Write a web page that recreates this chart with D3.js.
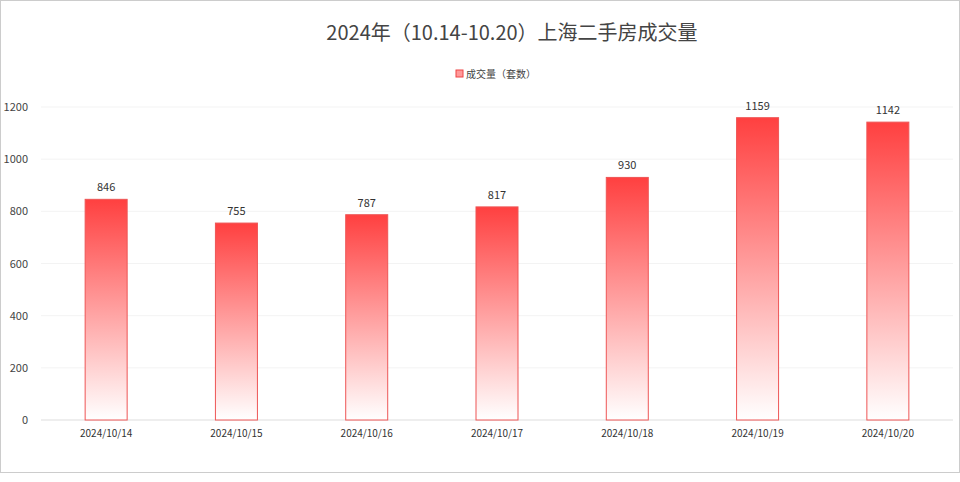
<!DOCTYPE html>
<html><head><meta charset="utf-8">
<script src="https://cdn.jsdelivr.net/npm/d3@7.9.0/dist/d3.min.js"></script>
<style>body{margin:0;background:#fff;font-family:"Noto Sans CJK SC","Noto Sans",sans-serif}</style>
</head><body>
<svg id="chart" width="960" height="482"></svg>
<script>
// chart data
const dates = ['2024/10/14','2024/10/15','2024/10/16','2024/10/17','2024/10/18','2024/10/19','2024/10/20'];
const volumes = [846, 755, 787, 817, 930, 1159, 1142];
const yTicks = [0, 200, 400, 600, 800, 1000, 1200];

const svg = d3.select('#chart');
const plotLeft = 41, plotRight = 953, plotTop = 107, plotBottom = 420;

// frame
svg.append('rect').attr('x', 0.5).attr('y', 0.5).attr('width', 959).attr('height', 472)
  .attr('fill', 'none').attr('stroke', '#ccc');

const x = d3.scaleBand().domain(dates).range([plotLeft, plotRight]);
const y = d3.scaleLinear().domain([0, 1200]).range([plotBottom, plotTop]);

const defs = svg.append('defs');
const grad = defs.append('linearGradient').attr('id', 'g').attr('x1', 0).attr('y1', 0).attr('x2', 0).attr('y2', 1);
grad.append('stop').attr('offset', '0%').attr('stop-color', '#ff4040');
grad.append('stop').attr('offset', '100%').attr('stop-color', '#fff');

// grid lines
svg.selectAll('.grid').data(yTicks).join('line')
  .attr('x1', plotLeft).attr('x2', plotRight)
  .attr('y1', d => y(d)).attr('y2', d => y(d))
  .attr('stroke', d => d === 0 ? '#ddd' : '#f3f3f3');

svg.selectAll('.ytick').data(yTicks).join('text')
  .attr('x', 28).attr('y', d => y(d) + 4).attr('text-anchor', 'end')
  .attr('font-size', 11).attr('fill', '#444').text(d => d);

// bars
const bw = 42;
svg.selectAll('.bar').data(volumes).join('rect')
  .attr('x', (d, i) => x(dates[i]) + x.bandwidth() / 2 - bw / 2)
  .attr('y', d => y(d)).attr('width', bw).attr('height', d => plotBottom - y(d))
  .attr('fill', 'url(#g)').attr('stroke', '#e55').attr('stroke-width', 1);

svg.selectAll('.val').data(volumes).join('text')
  .attr('x', (d, i) => x(dates[i]) + x.bandwidth() / 2).attr('y', d => y(d) - 8)
  .attr('text-anchor', 'middle').attr('font-size', 11).attr('fill', '#333').text(d => d);

svg.selectAll('.xl').data(dates).join('text')
  .attr('x', d => x(d) + x.bandwidth() / 2).attr('y', 437)
  .attr('text-anchor', 'middle').attr('font-size', 10).attr('fill', '#333').text(d => d);

// title & legend
svg.append('text').attr('x', 512).attr('y', 40).attr('text-anchor', 'middle')
  .attr('font-size', 20).attr('fill', '#444').text('2024年（10.14-10.20）上海二手房成交量');
svg.append('rect').attr('x', 456).attr('y', 70).attr('width', 7).attr('height', 7)
  .attr('fill', '#f99').attr('stroke', '#e44');
svg.append('text').attr('x', 466).attr('y', 78).attr('font-size', 10).attr('fill', '#444')
  .text('成交量（套数）');
</script>
</body></html>
